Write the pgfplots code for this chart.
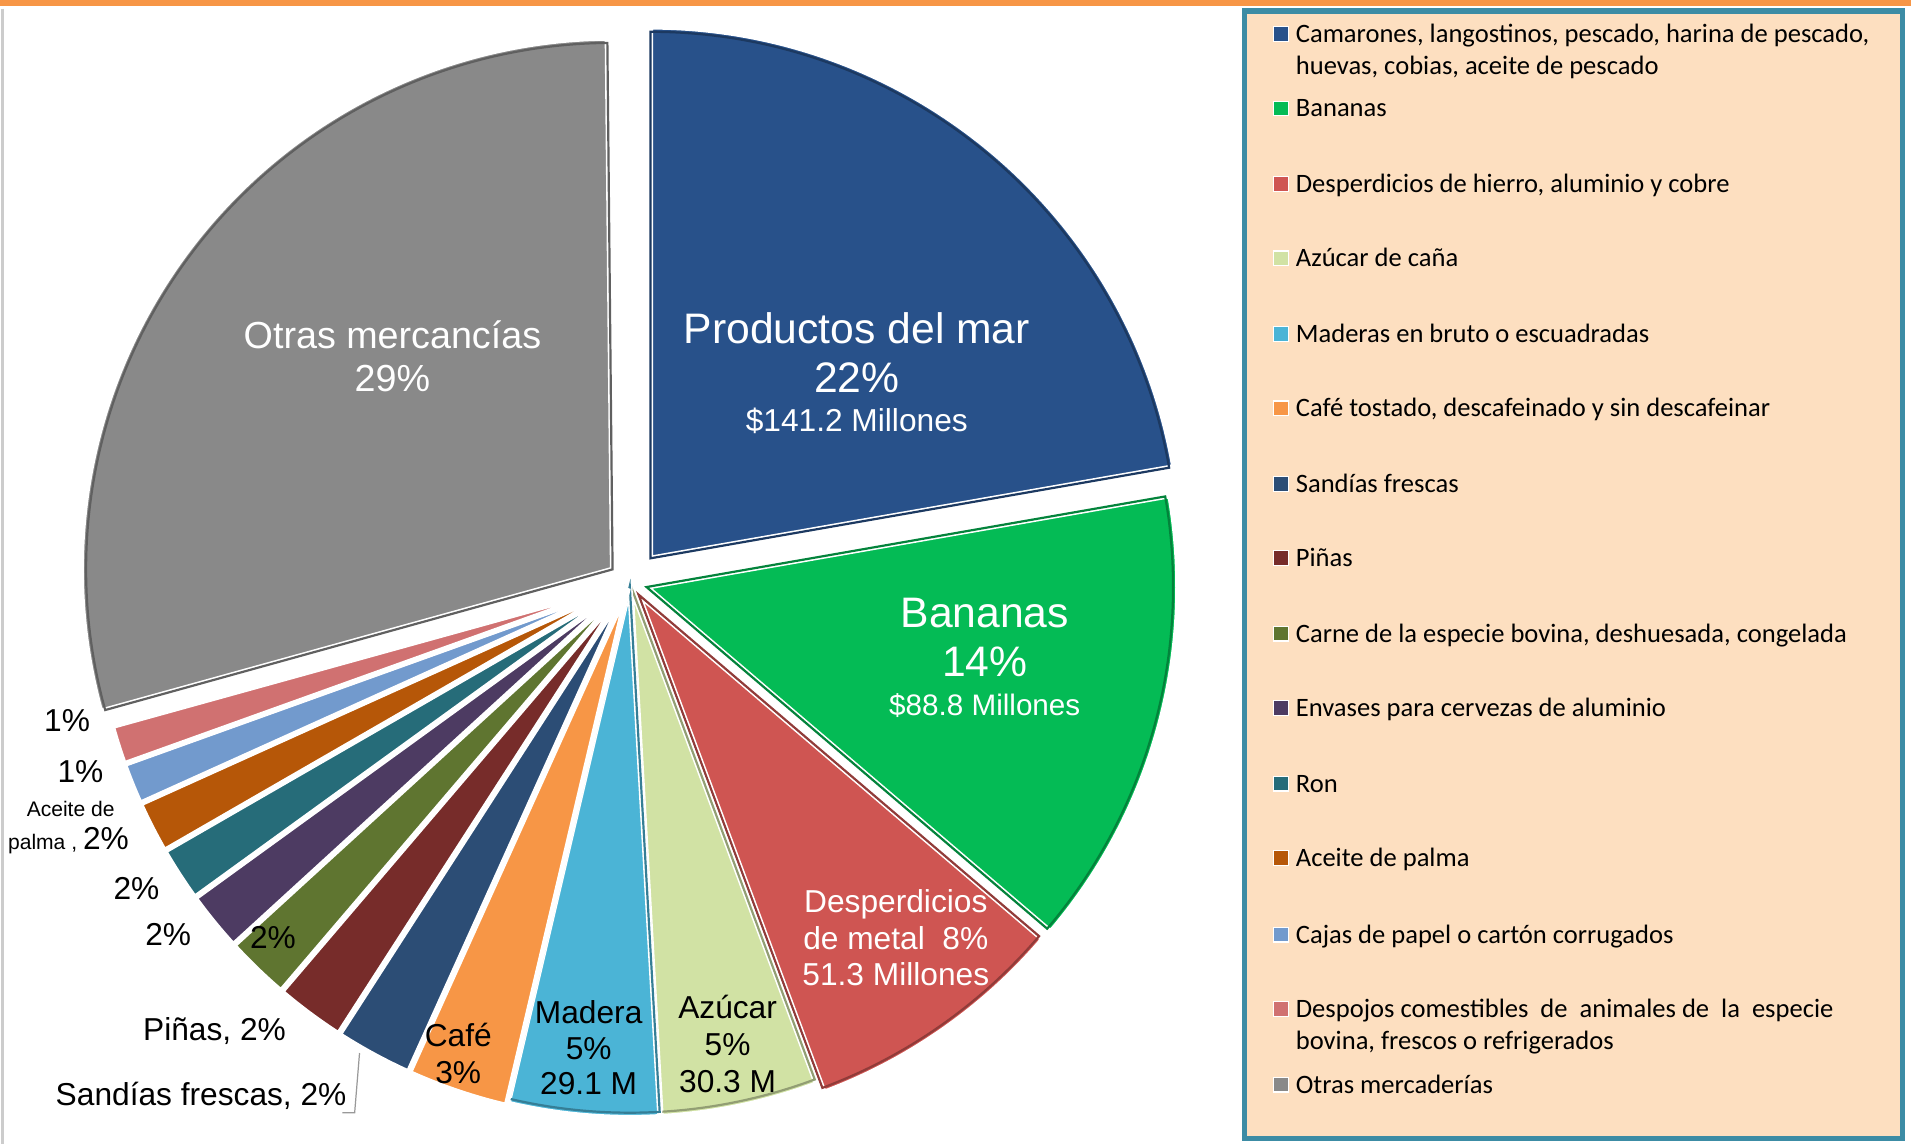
\documentclass[border=0pt]{standalone}
\usepackage{pgfplots}
\pgfplotsset{compat=1.18}
\usepackage{fontspec}
\setmainfont{Liberation Sans}
\newfontfamily\calfont{Carlito}

\definecolor{cA}{HTML}{28518A}
\definecolor{cB}{HTML}{04BB55}
\definecolor{cC}{HTML}{CF5552}
\definecolor{cD}{HTML}{D1E2A4}
\definecolor{cE}{HTML}{4BB4D6}
\definecolor{cF}{HTML}{F79646}
\definecolor{cG}{HTML}{2C4D75}
\definecolor{cH}{HTML}{772C2A}
\definecolor{cI}{HTML}{5F7530}
\definecolor{cJ}{HTML}{4D3B62}
\definecolor{cK}{HTML}{266C79}
\definecolor{cL}{HTML}{B65708}
\definecolor{cM}{HTML}{729ACD}
\definecolor{cN}{HTML}{D07171}
\definecolor{cO}{HTML}{898989}
\definecolor{peach}{HTML}{FDDFC0}
\definecolor{frame}{HTML}{3C8CA5}
\definecolor{topbar}{HTML}{F79646}

\newcommand\fA{\fontsize{24.9}{28}\selectfont}
\newcommand\fB{\fontsize{22}{26}\selectfont}
\newcommand\fC{\fontsize{18.5}{22}\selectfont}
\newcommand\fCs{\fontsize{17.3}{20}\selectfont}
\newcommand\fD{\fontsize{12.3}{14}\selectfont}
\newcommand\fL{\calfont\fontsize{15.5}{18.5}\selectfont}

% exportaciones en millones de dolares
\def\total{634.7}

\begin{document}
\begin{tikzpicture}
\begin{axis}[
    width=392mm, height=234.75mm, scale only axis,
    xmin=0, xmax=1568, ymin=0, ymax=939, y dir=reverse,
    hide axis, clip=false]

\fill[white] (axis cs:0,0) rectangle (axis cs:1568,939);
\fill[topbar] (axis cs:0,0) rectangle (axis cs:1568,5);
\draw[black!20, line width=0.5mm] (axis cs:2,7) -- (axis cs:2,939);

% pie: valor / color / separacion / bisel
\gdef\angA{90}
\foreach \v/\c/\e/\b in {141.2/cA/26/1, 88.8/cB/14/1, 51.3/cC/12/1,
    30.3/cD/3/1, 29.1/cE/3/1, 19.5/cF/5/0, 15/cG/5/0, 13.5/cH/5/0,
    12.5/cI/5/0, 11.5/cJ/5/0, 10.5/cK/5/0, 10/cL/5/0, 8/cM/5/0,
    7.5/cN/5/0, 185/cO/18/1}{
  \pgfmathsetmacro\sweep{\v/\total*360}
  \pgfmathsetmacro\angB{\angA-\sweep}
  \pgfmathsetmacro\mid{(\angA+\angB)/2}
  \edef\temp{\noexpand\fill[\c, draw=white, line width=1.1mm]
    (axis cs:517,478) ++(\mid:\e*0.25mm) -- ++(\angA:109mm)
    arc[start angle=\angA, end angle=\angB, radius=109mm] -- cycle;}
  \temp
  \ifnum\b=1
  \edef\temp{\noexpand\draw[\c!70!black, line width=0.45mm]
    (axis cs:517,478) ++(\mid:\e*0.25mm) -- ++(\angA:108mm)
    arc[start angle=\angA, end angle=\angB, radius=108mm] -- cycle;}
  \temp
  \fi
  \xdef\angA{\angB}
}

% etiquetas
\node[anchor=base, white] at (axis cs:703,282) {\fA Productos del mar};
\node[anchor=base, white] at (axis cs:703,322) {\fA 22\%};
\node[anchor=base, white] at (axis cs:703,354) {\fC \$141.2 Millones};
\node[anchor=base, white] at (axis cs:808,515) {\fA Bananas};
\node[anchor=base, white] at (axis cs:808,555) {\fA 14\%};
\node[anchor=base, white] at (axis cs:808,587) {\fCs \$88.8 Millones};
\node[anchor=base, white] at (axis cs:322,286) {\fB Otras mercancías};
\node[anchor=base, white] at (axis cs:322,321) {\fB 29\%};
\node[anchor=base, white] at (axis cs:735,749) {\fC Desperdicios};
\node[anchor=base, white] at (axis cs:735,779) {\fC de metal\ \ 8\%};
\node[anchor=base, white] at (axis cs:735,809) {\fC 51.3 Millones};
\node[anchor=base] at (axis cs:597,836) {\fC Azúcar};
\node[anchor=base] at (axis cs:597,866) {\fC 5\%};
\node[anchor=base] at (axis cs:597,896) {\fC 30.3 M};
\node[anchor=base] at (axis cs:483,840) {\fC Madera};
\node[anchor=base] at (axis cs:483,869) {\fC 5\%};
\node[anchor=base] at (axis cs:483,898) {\fC 29.1 M};
\node[anchor=base] at (axis cs:376,859) {\fC Café};
\node[anchor=base] at (axis cs:376,889) {\fC 3\%};
\node[anchor=base] at (axis cs:224,778) {\fC 2\%};
\node[anchor=base] at (axis cs:55,600) {\fC 1\%};
\node[anchor=base] at (axis cs:66,642) {\fC 1\%};
\node[anchor=base] at (axis cs:58,670) {\fD Aceite de};
\node[anchor=base east, inner sep=0pt] at (axis cs:106,697) {\fD palma , \fC 2\%};
\node[anchor=base] at (axis cs:112,738) {\fC 2\%};
\node[anchor=base] at (axis cs:138,776) {\fC 2\%};
\node[anchor=base] at (axis cs:176,854) {\fC Piñas, 2\%};
\node[anchor=base] at (axis cs:165,907) {\fC Sandías frescas, 2\%};
\draw[black!40, line width=0.25mm] (axis cs:295,864) -- (axis cs:291,913) -- (axis cs:281,913);

% leyenda
\draw[frame, fill=peach, line width=1.1mm] (axis cs:1021,9) rectangle (axis cs:1561,934);
\foreach \y/\c in {28/cA, 89/cB, 151/cC, 212/cD, 274/cE, 335/cF, 397/cG,
    458/cH, 520/cI, 581/cJ, 643/cK, 704/cL, 767/cM, 828/cN, 890/cO}{
  \edef\temp{\noexpand\fill[\c, draw=white, line width=0.25mm]
    (axis cs:1045,\y-6) rectangle (axis cs:1057,\y+6);}
  \temp
}
\foreach \y/\t in {35/{Camarones, langostinos, pescado, harina de pescado,},
    61/{huevas, cobias, aceite de pescado}, 96/Bananas,
    158/{Desperdicios de hierro, aluminio y cobre}, 219/Azúcar de caña,
    281/Maderas en bruto o escuadradas,
    342/{Café tostado, descafeinado y sin descafeinar},
    404/Sandías frescas, 465/Piñas,
    527/{Carne de la especie bovina, deshuesada, congelada},
    588/Envases para cervezas de aluminio, 650/Ron, 711/Aceite de palma,
    774/Cajas de papel o cartón corrugados,
    835/{Despojos comestibles\ \ de\ \ animales de\ \ la\ \ especie},
    861/{bovina, frescos o refrigerados}, 897/Otras mercaderías}{
  \edef\temp{\noexpand\node[anchor=base west, inner sep=0pt]
    at (axis cs:1063,\y) {\noexpand\fL \t};}
  \temp
}
\end{axis}
\end{tikzpicture}
\end{document}
